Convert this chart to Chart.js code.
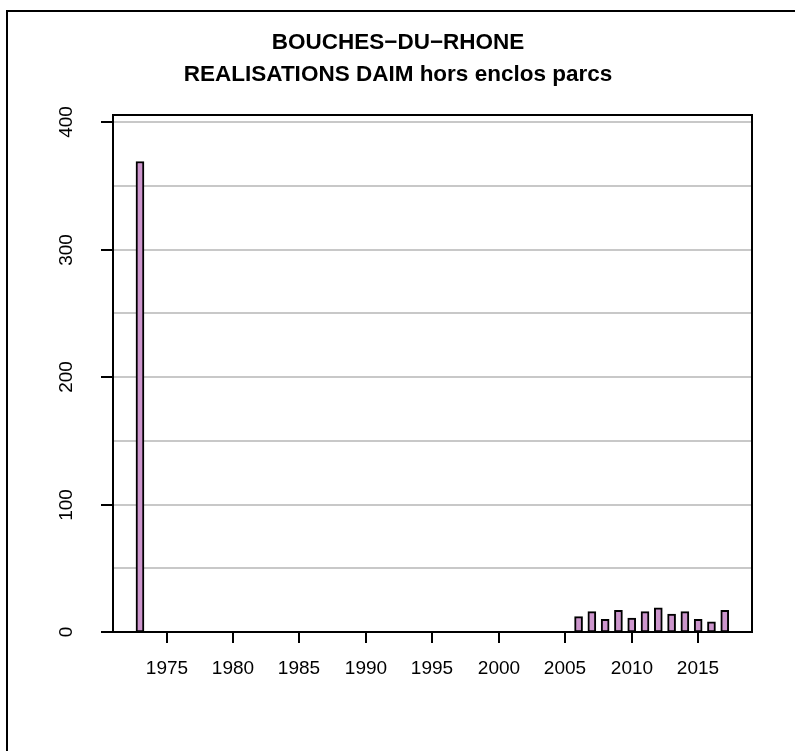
<!DOCTYPE html>
<html>
<head>
<meta charset="utf-8">
<script src="https://cdn.jsdelivr.net/npm/chart.js@4"></script>
<style>
  html, body { margin: 0; padding: 0; background: #fff; }
  #wrap { width: 795px; height: 751px; }
</style>
</head>
<body>
<div id="wrap"><canvas id="myChart" width="795" height="751"></canvas></div>
<script>
// years and values
const years = [];
for (let y = 1973; y <= 2017; y++) years.push(y);
const values = [369,
  0, 0, 0, 0, 0, 0, 0, 0, 0, 0, 0, 0, 0, 0, 0, 0,
  0, 0, 0, 0, 0, 0, 0, 0, 0, 0, 0, 0, 0, 0, 0, 0,
  12, 16, 10, 17, 11, 16, 19, 14, 16, 10, 8, 17];
const xTicks = [1975, 1980, 1985, 1990, 1995, 2000, 2005, 2010, 2015];
const yTicks = [0, 100, 200, 300, 400];
const gridLines = [50, 100, 150, 200, 250, 300, 350, 400];
const titleLines = ["BOUCHES\u2212DU\u2212RHONE", "REALISATIONS DAIM hors enclos parcs"];

const FONT = "'Liberation Sans', Arial, sans-serif";

// R style axes, grid, box and frame
const rStyle = {
  id: "rStyle",
  beforeDatasetsDraw(chart) {
    const ctx = chart.ctx;
    const a = chart.chartArea;
    const ys = chart.scales.y;
    ctx.save();
    ctx.strokeStyle = "#c8c8c8";
    ctx.lineWidth = 2;
    gridLines.forEach((v) => {
      const py = Math.round(ys.getPixelForValue(v));
      ctx.beginPath();
      ctx.moveTo(a.left, py);
      ctx.lineTo(a.right, py);
      ctx.stroke();
    });
    ctx.restore();
  },
  afterDraw(chart) {
    const ctx = chart.ctx;
    const a = chart.chartArea;
    const xs = chart.scales.x;
    const ys = chart.scales.y;
    ctx.save();
    // outer frame
    ctx.strokeStyle = "#000";
    ctx.lineWidth = 2;
    ctx.strokeRect(7, 11, 800, 760);
    // plot box
    ctx.strokeRect(a.left, a.top, a.right - a.left, a.bottom - a.top);

    // x axis ticks
    ctx.fillStyle = "#000";
    ctx.font = "19px " + FONT;
    ctx.textAlign = "center";
    ctx.textBaseline = "middle";
    xTicks.forEach((t) => {
      const px = Math.round(xs.getPixelForValue(t));
      ctx.beginPath();
      ctx.moveTo(px, a.bottom);
      ctx.lineTo(px, a.bottom + 11);
      ctx.stroke();
      ctx.fillText(String(t), px, 669);
    });
    // y axis ticks, labels rotated
    yTicks.forEach((t) => {
      const py = Math.round(ys.getPixelForValue(t));
      ctx.beginPath();
      ctx.moveTo(a.left, py);
      ctx.lineTo(a.left - 12, py);
      ctx.stroke();
      ctx.save();
      ctx.translate(67, py);
      ctx.rotate(-Math.PI / 2);
      ctx.fillText(String(t), 0, 0);
      ctx.restore();
    });

    // title
    ctx.font = "bold 22.5px " + FONT;
    ctx.fillText(titleLines[0], 398, 43);
    ctx.fillText(titleLines[1], 398, 75);
    ctx.restore();
  }
};

const data = {
  datasets: [
    {
      label: "Daim",
      data: years.map((yr, i) => ({ x: yr, y: values[i] })),
      backgroundColor: "#cc95cc",
      borderColor: "#000",
      borderWidth: 2,
      borderSkipped: false,
      barThickness: 8,
    },
  ],
};

const config = {
  type: "bar",
  data,
  options: {
    responsive: false,
    animation: false,
    layout: { padding: { left: 113, top: 115, right: 43, bottom: 119 } },
    plugins: {
      legend: { display: false },
      tooltip: { enabled: false },
    },
    scales: {
      x: { type: "linear", min: 1970.97, max: 2019.05, display: false, offset: false },
      y: { min: 0, max: 405.5, display: false },
    },
  },
  plugins: [rStyle],
};

const myChart = new Chart(document.getElementById("myChart"), config);
</script>
</body>
</html>
